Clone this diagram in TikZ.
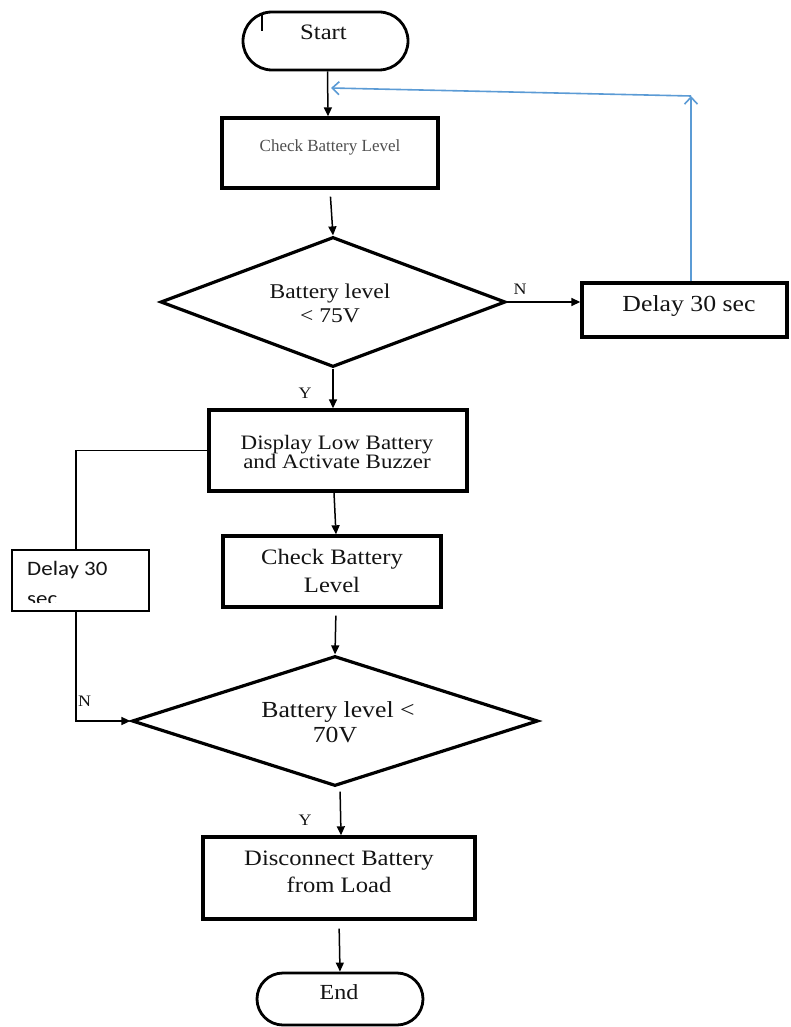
\documentclass[tikz,border=0pt]{standalone}
\usepackage{fontspec}
\setmainfont{Liberation Serif}[FakeStretch=1.12]
\newfontfamily\plainserif{Liberation Serif}
\newfontfamily\notefont{Carlito}[FakeStretch=1.12]
\usetikzlibrary{arrows.meta,shapes.geometric}
\definecolor{loopblue}{HTML}{5B9BD5}
\definecolor{softgrey}{HTML}{505050}

\begin{document}
\begin{tikzpicture}[x=1pt,y=-1pt,
  box/.style={draw, rectangle, line width=3.4pt, inner sep=0pt},
  thinbox/.style={draw, rectangle, line width=1.8pt, inner sep=0pt},
  term/.style={draw, rectangle, line width=2.8pt, inner sep=0pt},
  decision/.style={draw, diamond, line width=3.2pt, inner sep=0pt},
  txt/.style={inner sep=0pt, anchor=base, text=black!92},
  flow/.style={line width=1.5pt, -{Triangle[length=9pt,width=8pt]}},
  plain/.style={line width=1.5pt},
  loopflow/.style={line width=1.6pt, draw=loopblue, -{Straight Barb[length=7pt,width=13pt]}},
  lab/.style={inner sep=0pt, anchor=base, text=black!92, font=\fontsize{16}{18}\selectfont}
]
\fill[white] (0,0) rectangle (790,1027);
\useasboundingbox (0,0) rectangle (790,1027);

% ---- terminals ----
\node[term, rounded corners=29pt, minimum width=165pt, minimum height=58pt] (start) at (325.5,41) {};
\node[txt, font=\fontsize{22}{24}\selectfont] (startt) at (323.5,40) {Start};
\draw[line width=1.3pt] (262,14) -- (262,31);
\draw[line width=1.1pt] (259,16) -- (264,12);

\node[term, rounded corners=26pt, minimum width=166pt, minimum height=52pt] (end) at (340,999) {};
\node[txt, font=\fontsize{21.5}{24}\selectfont] (endt) at (339,999) {End};

% ---- process boxes ----
\node[box, minimum width=216pt, minimum height=70pt] (check1) at (330,153) {};
\node[txt, text=softgrey, font=\plainserif\fontsize{17}{19}\selectfont] (check1t) at (330,152) {Check Battery Level};

\node[box, minimum width=205pt, minimum height=54pt] (delay1) at (684.5,310) {};
\node[txt, font=\fontsize{23}{26}\selectfont] (delay1t) at (689,311) {Delay 30 sec};

\node[box, minimum width=258pt, minimum height=81pt] (display) at (338,450.5) {};
\node[txt, font=\fontsize{20.5}{22}\selectfont] (displayta) at (337,449) {Display Low Battery};
\node[txt, font=\fontsize{20.5}{22}\selectfont] (displaytb) at (337,468) {and Activate Buzzer};

\node[box, minimum width=218pt, minimum height=71pt] (check2) at (332,571.5) {};
\node[txt, font=\fontsize{22}{24}\selectfont] (check2ta) at (332,564) {Check Battery};
\node[txt, font=\fontsize{22}{24}\selectfont] (check2tb) at (332,592) {Level};

\node[thinbox, minimum width=137pt, minimum height=61pt] (delay2) at (80.5,580.5) {};
\node[txt, anchor=base west, font=\notefont\fontsize{20.5}{24}\selectfont] (delay2ta) at (27,575) {Delay 30};
\begin{scope}
  \clip (14,552) rectangle (147,602);
  \node[txt, anchor=base west, font=\notefont\fontsize{20.5}{24}\selectfont] (delay2tb) at (27,605) {sec};
\end{scope}

\node[box, minimum width=272pt, minimum height=82pt] (disc) at (339,878) {};
\node[txt, font=\fontsize{22}{24}\selectfont] (discta) at (339,865) {Disconnect Battery};
\node[txt, font=\fontsize{22}{24}\selectfont] (disctb) at (339,892) {from Load};

% ---- decisions ----
\node[decision, minimum width=345pt, minimum height=130pt] (dec1) at (333,302) {};
\node[txt, font=\fontsize{21}{24}\selectfont] (dec1ta) at (330,298) {Battery level};
\node[txt, font=\fontsize{21}{24}\selectfont] (dec1tb) at (330,322) {< 75V};

\node[decision, minimum width=406pt, minimum height=130pt] (dec2) at (335,721) {};
\node[txt, font=\fontsize{23}{26}\selectfont] (dec2ta) at (338,717) {Battery level <};
\node[txt, font=\fontsize{23}{26}\selectfont] (dec2tb) at (335,742) {70V};

% ---- connectors ----
\draw[flow] ([xshift=2pt]start.south) -- ([xshift=-2pt]check1.north);
\draw[flow, shorten <=7pt] (check1.south) -- (dec1.north);
\draw[flow] (dec1.east) -- (dec1.east -| delay1.west);
\node[lab] (n1) at (520,294) {N};
\draw[flow] (dec1.south) -- (dec1.south |- display.north);
\node[lab] (y1) at (305,398) {Y};

% loop back from the delay to the first check
\coordinate (bend) at (691,96);
\coordinate (join) at (331,88);
\draw[loopflow] (delay1.north -| bend) -- (bend);
\draw[loopflow] (bend) -- (join);

\draw[flow] ([xshift=-4pt]display.south) -- ([xshift=4pt]check2.north);
\draw[flow, shorten <=7pt] ([xshift=4pt]check2.south) -- (dec2.north);

\coordinate (vline) at (76,0);
\draw[plain] (display.west) -| (vline |- delay2.north);
\draw[flow] (vline |- delay2.south) |- (dec2.west);
\node[lab] (n2) at (84.5,706) {N};

\draw[flow, shorten <=4pt] ([xshift=5pt]dec2.south) -- ([xshift=6pt]dec2.south |- disc.north);
\node[lab] (y2) at (305,825) {Y};

\draw[flow, shorten <=8pt] (disc.south) -- (end.north);
\end{tikzpicture}
\end{document}
